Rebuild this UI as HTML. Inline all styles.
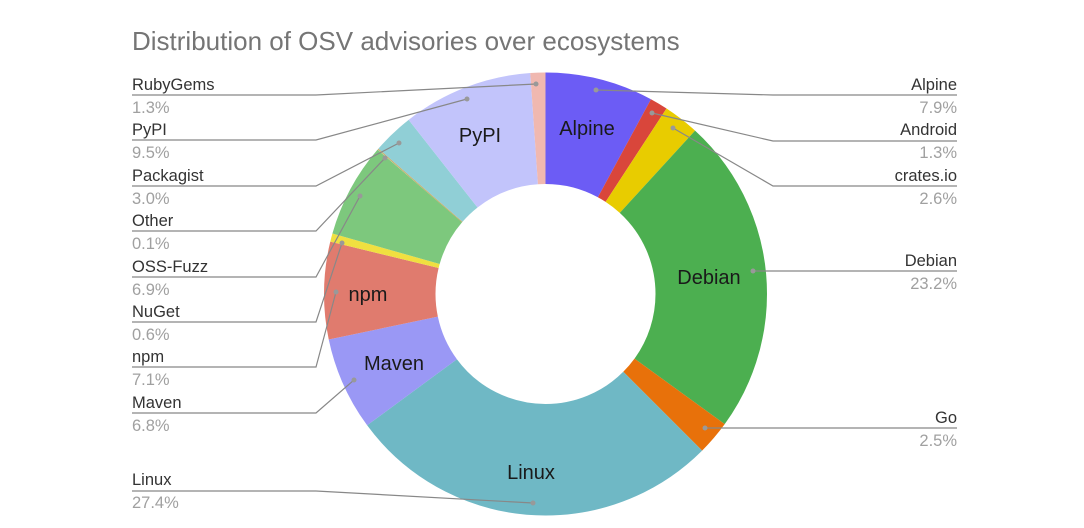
<!DOCTYPE html>
<html><head><meta charset="utf-8"><style>
html,body{margin:0;padding:0;background:#fff}
svg{display:block}
text{font-family:"Liberation Sans",sans-serif}
.n{font-size:16.5px;fill:#333}
.p{font-size:16.5px;fill:#a0a0a0}
.l{font-size:20px;fill:#1a1a1a}
</style></head><body>
<svg width="1084" height="528" viewBox="0 0 1084 528" xmlns="http://www.w3.org/2000/svg">
<rect width="1084" height="528" fill="#fff"/>
<text x="132" y="50" style="font-size:26px;fill:#757575">Distribution of OSV advisories over ecosystems</text>
<g transform="rotate(-90 545.5 294)" fill="none" stroke-width="111.5">
<circle cx="545.5" cy="294" r="165.75" pathLength="100" stroke="#6c5cf5" stroke-dasharray="7.9 100" stroke-dashoffset="0"/>
<circle cx="545.5" cy="294" r="165.75" pathLength="100" stroke="#d9463b" stroke-dasharray="1.3 100" stroke-dashoffset="-7.9"/>
<circle cx="545.5" cy="294" r="165.75" pathLength="100" stroke="#e8cc00" stroke-dasharray="2.6 100" stroke-dashoffset="-9.2"/>
<circle cx="545.5" cy="294" r="165.75" pathLength="100" stroke="#4caf50" stroke-dasharray="23.2 100" stroke-dashoffset="-11.8"/>
<circle cx="545.5" cy="294" r="165.75" pathLength="100" stroke="#e8710a" stroke-dasharray="2.5 100" stroke-dashoffset="-35"/>
<circle cx="545.5" cy="294" r="165.75" pathLength="100" stroke="#6fb8c5" stroke-dasharray="27.4 100" stroke-dashoffset="-37.5"/>
<circle cx="545.5" cy="294" r="165.75" pathLength="100" stroke="#9a98f5" stroke-dasharray="6.8 100" stroke-dashoffset="-64.9"/>
<circle cx="545.5" cy="294" r="165.75" pathLength="100" stroke="#e07b6e" stroke-dasharray="7.1 100" stroke-dashoffset="-71.7"/>
<circle cx="545.5" cy="294" r="165.75" pathLength="100" stroke="#f0e040" stroke-dasharray="0.6 100" stroke-dashoffset="-78.8"/>
<circle cx="545.5" cy="294" r="165.75" pathLength="100" stroke="#7dc87d" stroke-dasharray="6.9 100" stroke-dashoffset="-79.4"/>
<circle cx="545.5" cy="294" r="165.75" pathLength="100" stroke="#c8b070" stroke-dasharray="0.1 100" stroke-dashoffset="-86.3"/>
<circle cx="545.5" cy="294" r="165.75" pathLength="100" stroke="#90cfd6" stroke-dasharray="3.0 100" stroke-dashoffset="-86.4"/>
<circle cx="545.5" cy="294" r="165.75" pathLength="100" stroke="#c2c4fb" stroke-dasharray="9.5 100" stroke-dashoffset="-89.4"/>
<circle cx="545.5" cy="294" r="165.75" pathLength="100" stroke="#f0b8b0" stroke-dasharray="1.3 100" stroke-dashoffset="-98.9"/>
</g>
<g class="l">
<text x="587" y="135" text-anchor="middle">Alpine</text>
<text x="480" y="142" text-anchor="middle">PyPI</text>
<text x="709" y="284" text-anchor="middle">Debian</text>
<text x="368" y="301" text-anchor="middle">npm</text>
<text x="394" y="370" text-anchor="middle">Maven</text>
<text x="531" y="479" text-anchor="middle">Linux</text>
</g>
<g fill="none" stroke="#888" stroke-width="1.2">
<polyline points="132,95 316,95 536,84"/>
<polyline points="132,140 316,140 467,99"/>
<polyline points="132,186 316,186 399,143"/>
<polyline points="132,231 316,231 385,158"/>
<polyline points="132,277 316,277 360,196"/>
<polyline points="132,322 316,322 342,243"/>
<polyline points="132,367 316,367 336,292"/>
<polyline points="132,413 316,413 354,380"/>
<polyline points="132,491 316,491 533,503"/>
<polyline points="957,95 773,95 596,90"/>
<polyline points="957,141 773,141 652,113"/>
<polyline points="957,186 773,186 673,128"/>
<polyline points="957,271 753,271"/>
<polyline points="957,428 705,428"/>
</g>
<g fill="#999">
<circle cx="536" cy="84" r="2.5"/><circle cx="467" cy="99" r="2.5"/><circle cx="399" cy="143" r="2.5"/>
<circle cx="385" cy="158" r="2.5"/><circle cx="360" cy="196" r="2.5"/><circle cx="342" cy="243" r="2.5"/>
<circle cx="336" cy="292" r="2.5"/><circle cx="354" cy="380" r="2.5"/><circle cx="533" cy="503" r="2.5"/>
<circle cx="596" cy="90" r="2.5"/><circle cx="652" cy="113" r="2.5"/><circle cx="673" cy="128" r="2.5"/>
<circle cx="753" cy="271" r="2.5"/><circle cx="705" cy="428" r="2.5"/>
</g>
<g>
<text class="n" x="132" y="90">RubyGems</text><text class="p" x="132" y="113">1.3%</text>
<text class="n" x="132" y="135">PyPI</text><text class="p" x="132" y="158">9.5%</text>
<text class="n" x="132" y="181">Packagist</text><text class="p" x="132" y="204">3.0%</text>
<text class="n" x="132" y="226">Other</text><text class="p" x="132" y="249">0.1%</text>
<text class="n" x="132" y="272">OSS-Fuzz</text><text class="p" x="132" y="295">6.9%</text>
<text class="n" x="132" y="317">NuGet</text><text class="p" x="132" y="340">0.6%</text>
<text class="n" x="132" y="362">npm</text><text class="p" x="132" y="385">7.1%</text>
<text class="n" x="132" y="408">Maven</text><text class="p" x="132" y="431">6.8%</text>
<text class="n" x="132" y="485">Linux</text><text class="p" x="132" y="508">27.4%</text>
</g>
<g text-anchor="end">
<text class="n" x="957" y="90">Alpine</text><text class="p" x="957" y="113">7.9%</text>
<text class="n" x="957" y="135">Android</text><text class="p" x="957" y="158">1.3%</text>
<text class="n" x="957" y="181">crates.io</text><text class="p" x="957" y="204">2.6%</text>
<text class="n" x="957" y="266">Debian</text><text class="p" x="957" y="289">23.2%</text>
<text class="n" x="957" y="423">Go</text><text class="p" x="957" y="446">2.5%</text>
</g>
</svg>
</body></html>
